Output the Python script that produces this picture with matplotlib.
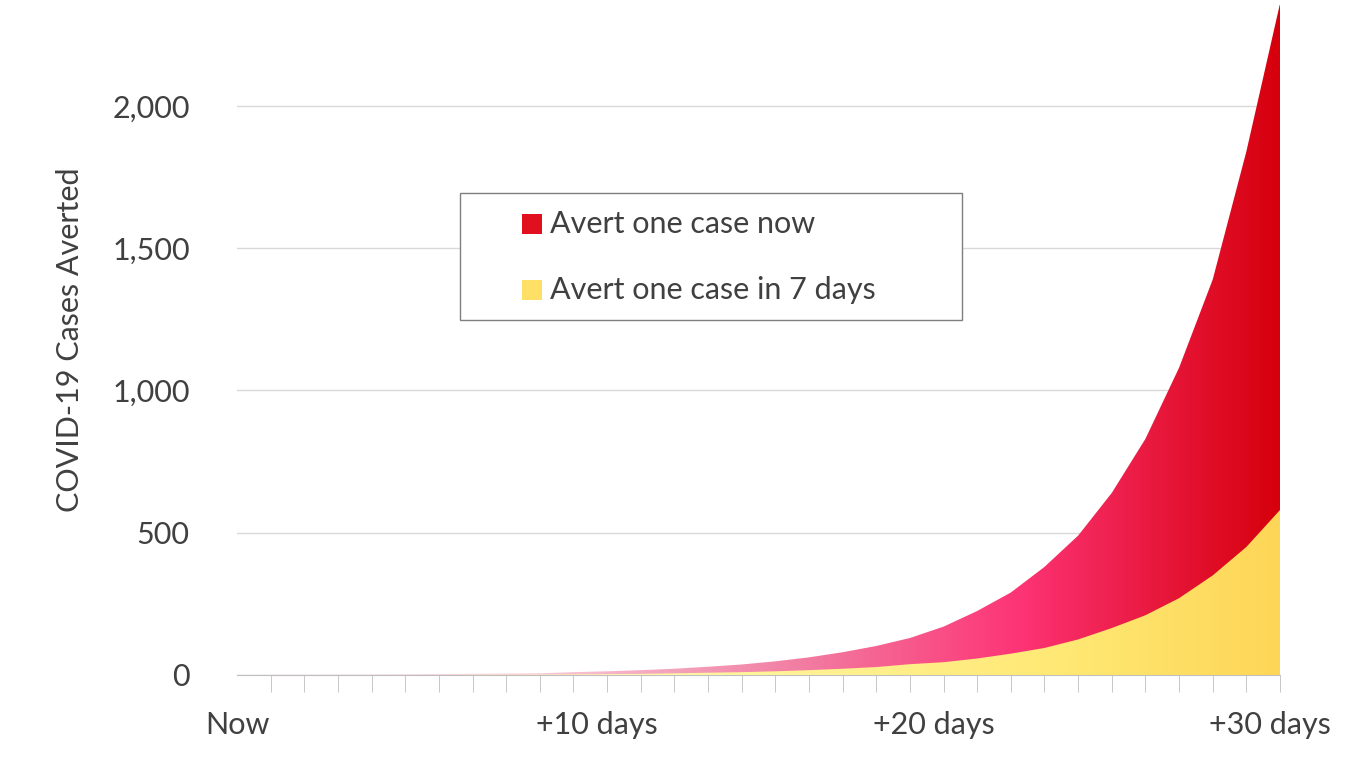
import numpy as np
import matplotlib.pyplot as plt
from matplotlib.colors import LinearSegmentedColormap
from matplotlib.patches import Rectangle

plt.rcParams['font.family'] = ['Lato', 'DejaVu Sans']

days = list(range(0, 32))
avert_now = [0, 1, 1, 1.2, 1.5, 2, 3, 4, 5, 6, 10, 13, 17, 22, 29, 37, 48, 62, 80, 102,
             130, 170, 225, 290, 380, 490, 640, 830, 1080, 1390, 1840, 2360]
avert_7 = [0, 0, 0, 0, 0, 0, 0, 1, 1, 1.5, 2, 3, 4, 6, 8, 10, 13, 17, 22, 28,
           38, 45, 58, 75, 95, 125, 165, 210, 270, 350, 450, 580]
tick_labels = ['Now', '+10 days', '+20 days', '+30 days']
label_pos = [0, 10.7, 20.7, 30.7]
y_ticks = [0, 500, 1000, 1500, 2000]
legend_labels = ['Avert one case now', 'Avert one case in 7 days']
legend_colors = ['#e0101f', '#ffe066']

W, H = 1362, 757
fig = plt.figure(figsize=(13.62, 7.57), dpi=100)
ax = fig.add_axes([237 / W, 82 / H, 1043 / W, 670 / H])
ymax = 2355
ax.set_xlim(0, 31)
ax.set_ylim(0, ymax)

red_cmap = LinearSegmentedColormap.from_list('r', [(0, '#fbe3ea'), (0.3, '#f7c6d4'), (0.55, '#f27aa0'),
                                                   (0.75, '#fd3476'), (1, '#d6000c')])
yel_cmap = LinearSegmentedColormap.from_list('y', [(0, '#fffbe0'), (0.5, '#fff49a'), (0.8, '#ffe873'),
                                                   (1, '#fdd657')])

def grad_fill(x, y, cmap, z):
    poly = ax.fill_between(x, 0, y, facecolor='none', edgecolor='none', zorder=z)
    grad = np.linspace(0, 1, 512).reshape(1, -1)
    im = ax.imshow(grad, cmap=cmap, aspect='auto', extent=[0, 31, 0, ymax], zorder=z)
    im.set_clip_path(poly.get_paths()[0], transform=ax.transData)

grad_fill(days, avert_now, red_cmap, 2)
grad_fill(days, avert_7, yel_cmap, 3)

ax.set_yticks(y_ticks)
ax.set_yticklabels([f'{v:,}' for v in y_ticks])
ax.grid(axis='y', color='#d9d9d9', linewidth=1, zorder=0)
ax.set_axisbelow(True)
ax.set_xticks(label_pos)
ax.set_xticklabels(tick_labels)
ax.set_xticks(days[1:], minor=True)
ax.tick_params(axis='x', which='major', length=0, labelsize=22, colors='#404040', pad=26)
ax.tick_params(axis='x', which='minor', length=12, direction='out', color='#bfbfbf')
ax.tick_params(axis='y', length=0, labelsize=22, colors='#404040', pad=34)
for s in ['top', 'right', 'left']:
    ax.spines[s].set_visible(False)
ax.spines['bottom'].set_color('#bfbfbf')
ax.set_ylabel('COVID-19 Cases Averted', fontsize=22, color='#404040', labelpad=20)

# legend box drawn by hand in figure pixels
fig.patches.append(Rectangle((460 / W, 1 - 320 / H), 502 / W, 127 / H, transform=fig.transFigure,
                             facecolor='white', edgecolor='#7f7f7f', linewidth=1, zorder=5))
for i, (lab, col) in enumerate(zip(legend_labels, legend_colors)):
    yc = 224 + i * 66
    fig.patches.append(Rectangle((522 / W, 1 - (yc + 10) / H), 20 / W, 20 / H, transform=fig.transFigure,
                                 facecolor=col, edgecolor='none', zorder=6))
    fig.text(550 / W, 1 - yc / H, lab, fontsize=22, color='#404040', va='center', ha='left', zorder=7)

fig.savefig('out.png', dpi=100)
